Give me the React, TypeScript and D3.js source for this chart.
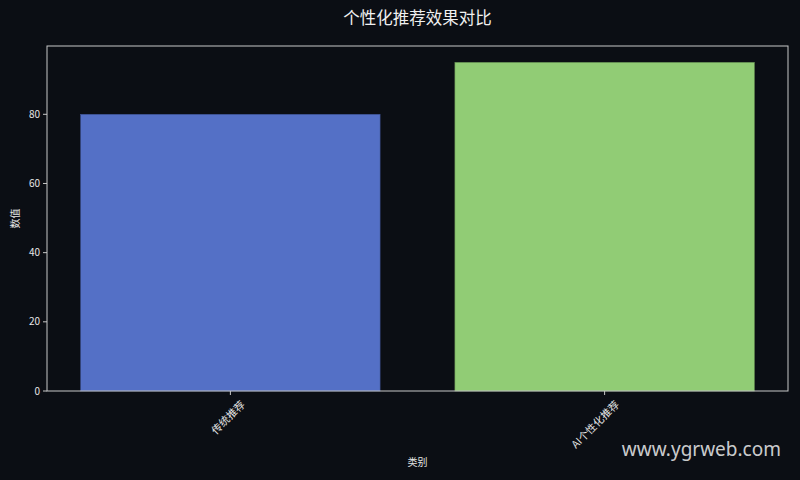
import { useEffect, useRef } from 'react'
import * as d3 from 'd3'

const categories = ['传统推荐', 'AI个性化推荐']
const values = [80, 95]
const barColors = ['#5470c6', '#91cc75']
const yTicks = [0, 20, 40, 60, 80]

const WIDTH = 800
const HEIGHT = 480
const BG = '#0b0e14'
const FONT = '"Noto Sans CJK SC", "DejaVu Sans", sans-serif'

export default function App() {
  const svgRef = useRef<SVGSVGElement>(null)

  useEffect(() => {
    if (!svgRef.current) return
    const svg = d3.select(svgRef.current)
    svg.selectAll('*').remove()

    const left = 47
    const right = 788
    const top = 46
    const bottom = 391

    const n = categories.length
    const pad = 0.09
    const x = d3
      .scaleLinear()
      .domain([-0.4 - pad, n - 1 + 0.4 + pad])
      .range([left, right])
    const y = d3
      .scaleLinear()
      .domain([0, (d3.max(values) ?? 1) * 1.05])
      .range([bottom, top])

    svg.append('rect').attr('width', WIDTH).attr('height', HEIGHT).attr('fill', BG)

    // bars
    svg
      .selectAll('rect.bar')
      .data(values)
      .join('rect')
      .attr('class', 'bar')
      .attr('x', (_, i) => x(i - 0.4))
      .attr('width', (_, i) => x(i + 0.4) - x(i - 0.4))
      .attr('y', (d) => y(d))
      .attr('height', (d) => y(0) - y(d))
      .attr('fill', (_, i) => barColors[i])
      .attr('stroke', (_, i) => d3.color(barColors[i])!.darker(0.8).formatHex())
      .attr('stroke-width', 0.6)

    // frame
    svg
      .append('rect')
      .attr('x', left)
      .attr('y', top)
      .attr('width', right - left)
      .attr('height', bottom - top)
      .attr('fill', 'none')
      .attr('stroke', '#c8c8c8')
      .attr('stroke-width', 1)

    // y axis
    const yg = svg.append('g').attr('transform', `translate(${left},0)`)
    yTicks.forEach((t) => {
      yg.append('line')
        .attr('x1', -4)
        .attr('x2', 0)
        .attr('y1', y(t))
        .attr('y2', y(t))
        .attr('stroke', '#c8c8c8')
      yg.append('text')
        .attr('x', -7)
        .attr('y', y(t))
        .attr('dy', '0.35em')
        .attr('text-anchor', 'end')
        .attr('fill', '#e6e6e6')
        .attr('font-size', 10)
        .attr('font-family', FONT)
        .text(t)
    })

    // x axis
    const xg = svg.append('g').attr('transform', `translate(0,${bottom})`)
    categories.forEach((c, i) => {
      xg.append('line')
        .attr('x1', x(i))
        .attr('x2', x(i))
        .attr('y1', 0)
        .attr('y2', 4)
        .attr('stroke', '#c8c8c8')
      xg.append('text')
        .attr('transform', `translate(${x(i) + 10},${9}) rotate(-45)`)
        .attr('text-anchor', 'end')
        .attr('dy', '0.7em')
        .attr('fill', '#e6e6e6')
        .attr('font-size', 10.5)
        .attr('font-family', FONT)
        .text(c)
    })

    // labels
    svg
      .append('text')
      .attr('x', (left + right) / 2)
      .attr('y', 24)
      .attr('text-anchor', 'middle')
      .attr('fill', '#f0f0f0')
      .attr('font-size', 16.5)
      .attr('font-family', FONT)
      .text('个性化推荐效果对比')

    svg
      .append('text')
      .attr('x', (left + right) / 2)
      .attr('y', 466)
      .attr('text-anchor', 'middle')
      .attr('fill', '#e6e6e6')
      .attr('font-size', 10)
      .attr('font-family', FONT)
      .text('类别')

    svg
      .append('text')
      .attr('transform', `translate(19,${(top + bottom) / 2}) rotate(-90)`)
      .attr('text-anchor', 'middle')
      .attr('fill', '#e6e6e6')
      .attr('font-size', 10)
      .attr('font-family', FONT)
      .text('数值')

    // watermark
    svg
      .append('text')
      .attr('x', 781)
      .attr('y', 456)
      .attr('text-anchor', 'end')
      .attr('fill', '#ffffff')
      .attr('fill-opacity', 0.8)
      .attr('font-size', 19)
      .attr('font-family', '"Noto Sans", "DejaVu Sans", sans-serif')
      .text('www.ygrweb.com')
  }, [])

  return (
    <svg
      ref={svgRef}
      width={WIDTH}
      height={HEIGHT}
      style={{ display: 'block', position: 'absolute', left: 0, top: 0 }}
    />
  )
}
